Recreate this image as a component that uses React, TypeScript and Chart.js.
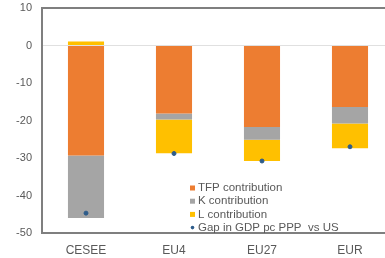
import React, { useEffect, useRef } from "react";
import { Chart, registerables } from "chart.js";

Chart.register(...registerables);

const categories = ["CESEE", "EU4", "EU27", "EUR"];
const tfpValues = [-29.3, -18.1, -21.7, -16.4];
const kValues = [-16.7, -1.6, -3.4, -4.4];
const lValues = [1.1, -9.0, -5.7, -6.6];
const gapValues = [-44.7, -28.8, -30.8, -27.0];
const yTicks = [10, 0, -10, -20, -30, -40, -50];

const seriesLabels = [
  "TFP contribution",
  "K contribution",
  "L contribution",
  "Gap in GDP pc PPP  vs US",
];
const colors = ["#ED7D31", "#A5A5A5", "#FFC000", "#2E5C8A"];

const FONT = "'Liberation Sans', Arial, sans-serif";

const frameAndLegend = {
  id: "frameAndLegend",
  afterDraw(chart: any) {
    const { ctx, chartArea } = chart;
    const { left, top, right, bottom } = chartArea;
    ctx.save();
    ctx.strokeStyle = "#7f7f7f";
    ctx.lineWidth = 2;
    ctx.beginPath();
    ctx.moveTo(left, bottom);
    ctx.lineTo(left, top);
    ctx.lineTo(right, top);
    ctx.lineTo(right, bottom);
    ctx.stroke();
    const x0 = 190;
    const y0 = 188;
    const step = 13.2;
    ctx.font = `11.5px ${FONT}`;
    ctx.textBaseline = "middle";
    ctx.textAlign = "left";
    chart.data.datasets.forEach((ds: any, i: number) => {
      const y = y0 + i * step;
      ctx.fillStyle = colors[i];
      if (i === 3) {
        ctx.beginPath();
        ctx.arc(x0 + 2.5, y, 1.8, 0, Math.PI * 2);
        ctx.fill();
      } else {
        ctx.fillRect(x0, y - 2.5, 5, 5);
      }
      ctx.fillStyle = "#595959";
      ctx.fillText(ds.label, x0 + 8, y);
    });
    ctx.restore();
  },
};

export default function App() {
  const ref = useRef<HTMLCanvasElement>(null);
  useEffect(() => {
    if (!ref.current) return;
    const chart = new Chart(ref.current, {
      type: "bar",
      data: {
        labels: categories,
        datasets: [
          { label: seriesLabels[0], data: tfpValues, backgroundColor: colors[0], stack: "s", order: 2 },
          { label: seriesLabels[1], data: kValues, backgroundColor: colors[1], stack: "s", order: 2 },
          { label: seriesLabels[2], data: lValues, backgroundColor: colors[2], stack: "s", order: 2 },
          {
            type: "line",
            label: seriesLabels[3],
            data: gapValues,
            stack: "gap",
            showLine: false,
            pointRadius: 2,
            pointBackgroundColor: colors[3],
            pointBorderColor: colors[3],
            borderColor: colors[3],
            backgroundColor: colors[3],
            order: 1,
          } as any,
        ],
      },
      options: {
        responsive: false,
        animation: false,
        barPercentage: 0.82,
        categoryPercentage: 0.5,
        layout: { padding: { top: 0, right: 6, left: 0, bottom: 0 } },
        plugins: { legend: { display: false }, tooltip: { enabled: false } },
        scales: {
          x: {
            stacked: true,
            grid: { display: false, drawTicks: false },
            border: { display: true, color: "#7f7f7f", width: 2 },
            ticks: { color: "#595959", font: { family: FONT, size: 12 }, padding: 10 },
            afterFit: (s: any) => { s.height = 25; },
          },
          y: {
            stacked: true,
            min: -50,
            max: 10,
            afterBuildTicks: (s: any) => { s.ticks = yTicks.map((v) => ({ value: v })); },
            grid: {
              drawTicks: false,
              color: (c: any) => (c.tick && c.tick.value === 0 ? "#e0e0e0" : "rgba(0,0,0,0)"),
            },
            border: { display: true, color: "#7f7f7f", width: 2 },
            ticks: { color: "#595959", font: { family: FONT, size: 11 }, padding: 10 },
            afterFit: (s: any) => { s.width = 42; s.paddingTop = 8; s.paddingBottom = 0; },
          },
        },
      },
      plugins: [frameAndLegend],
    });
    return () => chart.destroy();
  }, []);
  return (
    <div style={{ position: "fixed", left: 0, top: 0, width: 400, height: 258, overflow: "hidden", background: "#fff" }}>
      <canvas ref={ref} width={400} height={258} />
    </div>
  );
}
